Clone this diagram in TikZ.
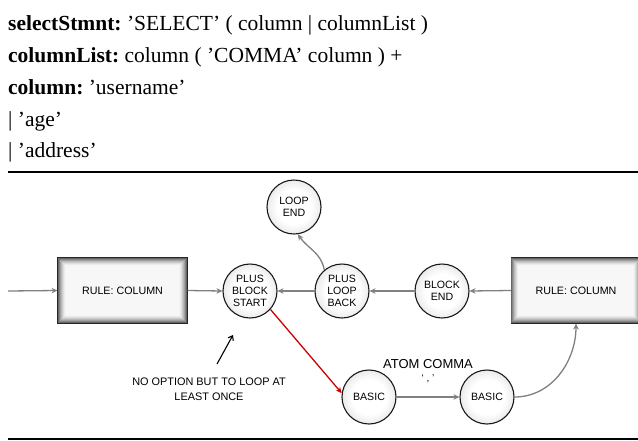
\documentclass[tikz,border=0pt]{standalone}
\usepackage{fontspec}
\setmainfont{Liberation Serif}
\newfontfamily\diagfont{Liberation Sans}
\usetikzlibrary{arrows.meta,calc}
\frenchspacing
% soft ball shading for the state circles
\pgfdeclareradialshading{ballshade}{\pgfpoint{0bp}{0bp}}{color(0bp)=(white); color(16bp)=(white); color(34bp)=(black!16); color(44bp)=(black!42); color(50bp)=(black!65)}

\begin{document}
\begin{tikzpicture}[x=1pt,y=-1pt,
  grammar/.style={anchor=base west, inner sep=0pt, font=\fontsize{21.5}{26}\selectfont},
  ball/.style={circle, minimum size=54pt, inner sep=0pt, draw=black!90, line width=1.1pt,
    shading=ballshade, align=center, font=\diagfont\fontsize{10.6}{11.7}\selectfont},
  rulebox/.style={rectangle, minimum width=129pt, minimum height=65pt, inner sep=0pt,
    draw=black!85, line width=1.1pt, fill=black!3, font=\diagfont\fontsize{10.7}{12}\selectfont},
  flow/.style={draw=black!50, line width=1.3pt, -{Stealth[length=6pt,width=5.5pt]}},
  hot/.style={draw=red!80!black, line width=1.3pt, -{Stealth[length=6pt,width=5.5pt]}},
  pointer/.style={draw=black, line width=1.1pt, -{Straight Barb[length=4pt,width=6pt]}},
  note/.style={align=center, inner sep=0pt, font=\diagfont\fontsize{10.9}{15}\selectfont},
  sep/.style={line width=1.2pt, black}
]
\useasboundingbox (0,0) rectangle (638,440);

% grammar rules
\node[grammar] (g1) at (8,30)  {\textbf{selectStmnt:} 'SELECT' ( column | columnList )};
\node[grammar] (g2) at (8,62)  {\textbf{columnList:} column ( 'COMMA' column ) +};
\node[grammar] (g3) at (8,94)  {\textbf{column:} 'username'};
\node[grammar] (g4) at (8,126) {| 'age'};
\node[grammar] (g5) at (8,157) {| 'address'};

% separating rules
\coordinate (s1a) at (8,172);  \coordinate (s1b) at (638,172);
\coordinate (s2a) at (8,439);  \coordinate (s2b) at (638,439);
\draw[sep] (s1a) -- (s1b);
\draw[sep] (s2a) -- (s2b);

% rule boxes with a soft inner shadow
\node[rulebox] (b1) at (122.5,290.5) {};
\node[rulebox] (b2) at (576,290.5) {};
\foreach \b in {b1,b2}{
  \foreach \i/\c in {1/60,2/48,3/37,4/28,5/20,6/13,7/8,8/4}
    \draw[black!\c, line width=1pt] ($(\b.north west)+(\i,\i)$) rectangle ($(\b.south east)+(-\i,-\i)$);
}
\node[rulebox, draw=none, fill=none] (t1) at (b1) {RULE: COLUMN};
\node[rulebox, draw=none, fill=none] (t2) at (b2) {RULE: COLUMN};

% states
\node[ball] (pbs) at (250,291) {PLUS\\BLOCK\\START};
\node[ball] (plb) at (342,291) {PLUS\\LOOP\\BACK};
\node[ball] (be)  at (442,291) {BLOCK\\END};
\node[ball] (le)  at (294,207) {LOOP\\END};
\node[ball] (ba1) at (369,397) {BASIC};
\node[ball] (ba2) at (487,397) {BASIC};

% connectors
\coordinate (in) at (8,291);
\draw[flow] (in) -- (b1.west);
\draw[flow] (b1.east) -- (pbs.west);
\draw[flow] (plb.west) -- (pbs.east);
\draw[flow] (be.west) -- (plb.east);
\draw[flow] (b2.west) -- (be.east);
\draw[flow] (plb.130) to[out=100, in=-55] (le.-82);
\draw[hot] (pbs.-42) -- (ba1.172);
\draw[flow] (ba1.east) -- (ba2.west);
\draw[flow] (ba2.east) to[out=0, in=-90] (b2.south);

% labels
\node[font=\diagfont\fontsize{13}{15}\selectfont, inner sep=0pt] (atom) at (428,364) {ATOM COMMA};
\node[font=\diagfont\fontsize{10}{12}\selectfont, inner sep=0pt] (lit) at (428,379) {‘ , ’};

\node[note] (nt) at (209,389) {NO OPTION BUT TO LOOP AT\\LEAST ONCE};
\coordinate (ptail) at (217,364);
\coordinate (ptip) at (233,335);
\draw[pointer] (ptail) -- (ptip);
\end{tikzpicture}
\end{document}
